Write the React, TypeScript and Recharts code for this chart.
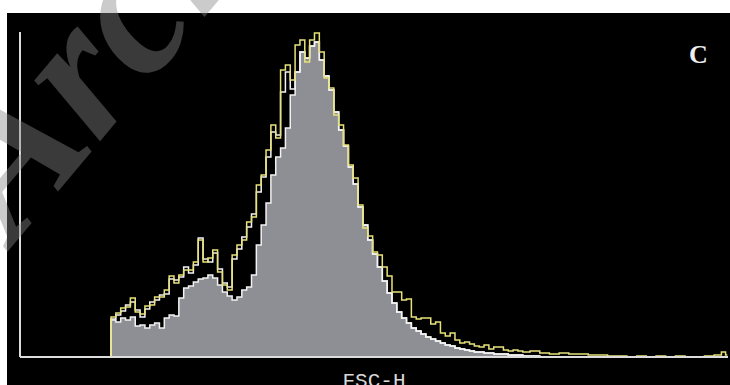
import React from 'react';
import { ComposedChart, Area, Line, XAxis, YAxis } from 'recharts';

// FSC-H channel (bin positions)
const channels = [
  128, 135, 142, 149, 156, 163, 170, 177, 184, 191, 198, 205, 212, 219, 226, 233, 240, 247, 254, 261,
  268, 275, 282, 289, 296, 303, 310, 317, 324, 331, 338, 345, 352, 359, 366, 373, 380, 387, 394, 401,
  408, 415, 422, 429, 436, 443, 450, 457, 464, 471, 478, 485, 492, 499, 506, 513, 520, 527, 534, 541,
  548, 555, 562, 569, 576, 583, 590, 597, 604, 611, 618, 625, 632, 639, 646, 653, 660, 667, 674, 681,
  688, 695, 702, 709, 716, 723, 730,
  744, 758, 772, 786, 800, 814, 828, 842, 856, 870, 884, 898, 912, 926, 940, 954, 968, 982, 996, 1010, 1017, 1022,
];

// gray filled histogram (counts)
const grayCounts = [
  0, 37, 35, 39, 37, 40, 31, 32, 29, 32, 34, 29, 39, 42, 41, 59, 69, 71, 75, 78,
  79, 82, 79, 72, 65, 61, 57, 60, 67, 70, 82, 112, 132, 154, 182, 200, 209, 229, 262, 285,
  305, 299, 311, 315, 297, 281, 267, 245, 227, 211, 190, 173, 150, 132, 117, 103, 90, 76, 64, 54,
  45, 39, 34, 29, 26, 23, 20, 18, 16, 14, 12, 11, 9, 8, 7, 6, 5, 5, 4, 4,
  3, 3, 3, 2, 2, 2, 1,
  1, 0, 0, 0, 0, 0, 0, 0, 0, 0, 0, 0, 0, 0, 0, 0, 0, 0, 0, 0, 0, 0,
];

// white line histogram
const whiteCounts = [
  0, 38, 42, 46, 52, 55, 47, 40, 48, 55, 57, 62, 63, 78, 77, 80, 90, 84, 92, 119,
  98, 95, 104, 88, 74, 70, 98, 108, 120, 130, 143, 165, 180, 200, 225, 222, 265, 285, 268, 285,
  305, 299, 311, 315, 297, 281, 267, 245, 227, 211, 190, 173, 150, 132, 117, 103, 90, 76, 64, 54,
  45, 39, 34, 29, 26, 23, 20, 18, 16, 14, 12, 11, 9, 8, 7, 6, 5, 5, 4, 4,
  3, 3, 3, 2, 2, 2, 1,
  1, 0, 0, 0, 0, 0, 0, 0, 0, 0, 0, 0, 0, 0, 0, 0, 0, 0, 0, 0, 0, 0,
];

// yellow line histogram
const yellowCounts = [
  0, 40, 44, 49, 50, 59, 45, 43, 51, 52, 60, 60, 67, 81, 74, 82, 87, 87, 95, 117,
  95, 99, 107, 85, 72, 67, 102, 112, 117, 135, 140, 172, 182, 207, 232, 219, 287, 292, 277, 312,
  317, 295, 317, 324, 305, 279, 269, 242, 232, 212, 192, 179, 152, 129, 121, 105, 102, 90, 81, 65,
  65, 57, 58, 40, 38, 39, 39, 33, 35, 24, 21, 24, 17, 14, 15, 13, 11, 10, 12, 8,
  10, 10, 7, 6, 7, 6, 5,
  6, 4, 3, 4, 3, 3, 2, 2, 1, 1, 0, 1, 0, 1, 0, 1, 0, 0, 1, 2, 5, 2,
];

const xTicks = [0, 100, 200, 300, 400, 500, 600, 700, 800, 900, 1000];

const data = channels.map((ch, i) => ({
  ch,
  gray: grayCounts[i],
  white: whiteCounts[i],
  yellow: yellowCounts[i],
}));

const AxisLabel = (props: any) => {
  const vb = props.viewBox || {};
  const cx = (vb.x || 0) + (vb.width || 0) / 2;
  const y = (vb.y || 0) + 30;
  return (
    <text
      x={cx}
      y={y}
      textAnchor="middle"
      fill="#d8d8d8"
      fontFamily="'Liberation Mono', 'DejaVu Sans Mono', monospace"
      fontSize={21}
    >
      FSC-H
    </text>
  );
};

export default function App() {
  return (
    <div style={{ position: 'absolute', left: 0, top: 0, width: 730, height: 385, background: '#ffffff', overflow: 'hidden' }}>
      <div style={{ position: 'absolute', left: 7, top: 13, width: 723, height: 372, background: '#000000' }} />
      <div style={{ position: 'absolute', left: 0, top: 0 }}>
        <ComposedChart width={730} height={385} data={data} margin={{ top: 32, right: 2, bottom: 0, left: 0 }}>
          <XAxis
            dataKey="ch"
            type="number"
            domain={[0, 1023]}
            ticks={xTicks}
            tick={false}
            tickSize={8}
            height={28}
            axisLine={{ stroke: '#dcdcdc', strokeWidth: 2 }}
            tickLine={{ stroke: '#dcdcdc', strokeWidth: 2 }}
            label={<AxisLabel />}
            allowDataOverflow
          />
          <YAxis
            type="number"
            domain={[0, 325]}
            width={20}
            tick={false}
            tickLine={false}
            axisLine={{ stroke: '#dcdcdc', strokeWidth: 2 }}
            allowDataOverflow
          />
          <Area
            type="step"
            dataKey="gray"
            fill="#8e8e95"
            fillOpacity={1}
            stroke="#f2f2f2"
            strokeWidth={1.5}
            isAnimationActive={false}
            dot={false}
            activeDot={false}
          />
          <Line
            type="step"
            dataKey="white"
            stroke="#f4f4f4"
            strokeWidth={1.5}
            dot={false}
            activeDot={false}
            isAnimationActive={false}
          />
          <Line
            type="step"
            dataKey="yellow"
            stroke="#e8e27a"
            strokeWidth={1.5}
            dot={false}
            activeDot={false}
            isAnimationActive={false}
          />
        </ComposedChart>
      </div>
      <div
        style={{
          position: 'absolute',
          left: 689,
          top: 40,
          color: '#eeeeee',
          fontFamily: "'Liberation Serif', serif",
          fontWeight: 'bold',
          fontSize: 26,
          lineHeight: '30px',
        }}
      >
        C
      </div>
      <svg width={730} height={385} style={{ position: 'absolute', left: 0, top: 0, pointerEvents: 'none' }}>
        <text
          x={14}
          y={244}
          transform="rotate(-50 14 244)"
          fontFamily="'Liberation Serif', serif"
          fontStyle="italic"
          fontWeight="bold"
          fontSize={195}
          fill="rgb(135,135,135)"
          fillOpacity={0.43}
        >
          Archives
        </text>
      </svg>
    </div>
  );
}
